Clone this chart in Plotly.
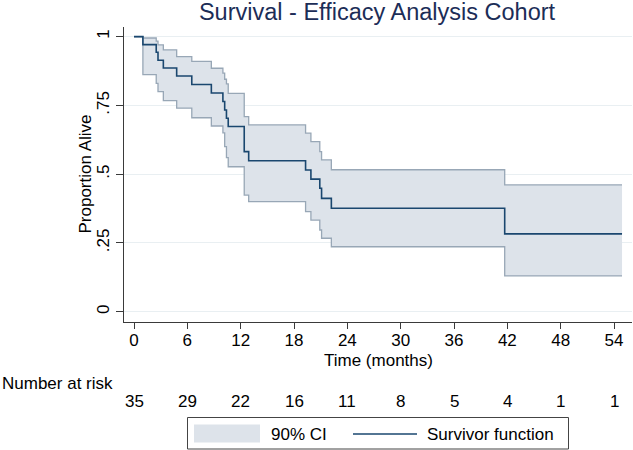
import plotly.graph_objects as go

# ---------------- data ----------------
times = [0, 1.0, 2.5, 2.7, 3.3, 4.8, 6.5, 8.7, 10.0, 10.2, 10.4, 10.6, 12.4, 12.9,
         19.3, 19.9, 20.9, 21.1, 22.2, 41.7, 54.9]
survival = [1.0, 0.971, 0.943, 0.914, 0.886, 0.857, 0.826, 0.795, 0.764, 0.733, 0.703,
            0.673, 0.582, 0.549, 0.515, 0.482, 0.449, 0.412, 0.376, 0.283, 0.283]
ci_upper = [1.0, 0.995, 0.984, 0.970, 0.952, 0.927, 0.910, 0.885, 0.867, 0.845, 0.828,
            0.794, 0.709, 0.679, 0.649, 0.618, 0.582, 0.552, 0.516, 0.461, 0.461]
ci_lower = [1.0, 0.862, 0.830, 0.800, 0.767, 0.740, 0.705, 0.675, 0.650, 0.600, 0.560,
            0.527, 0.424, 0.400, 0.364, 0.333, 0.297, 0.267, 0.236, 0.130, 0.130]

risk_times = [0, 6, 12, 18, 24, 30, 36, 42, 48, 54]
number_at_risk = [35, 29, 22, 16, 11, 8, 5, 4, 1, 1]

y_tickvals = [0, 0.25, 0.5, 0.75, 1]
y_ticktext = ["0", ".25", ".5", ".75", "1"]

title_text = "Survival - Efficacy Analysis Cohort"
x_title = "Time (months)"
y_title = "Proportion Alive"
risk_label = "Number at risk"
legend_ci = "90% CI"
legend_sf = "Survivor function"

# ---------------- styling ----------------
W, H = 633, 450
L, R, T, B = 124, 1, 27, 128
PW, PH = W - L - R, H - T - B
FONT = "Liberation Sans, Arial, Helvetica, sans-serif"
FS = 17
NAVY = "#1a476f"
BAND_FILL = "#dde3ea"
BAND_EDGE = "#98a7b6"
GRID = "#e9eff2"
AXIS = "#3a3a3a"


def px_x(p):
    return (p - L) / PW


def px_y(p):
    return (H - B - p) / PH


fig = go.Figure()
fig.add_trace(go.Scatter(x=times, y=ci_lower, mode="lines", line=dict(shape="hv", color=BAND_EDGE, width=1.3),
                         showlegend=False, hoverinfo="skip"))
fig.add_trace(go.Scatter(x=times, y=ci_upper, mode="lines", line=dict(shape="hv", color=BAND_EDGE, width=1.3),
                         fill="tonexty", fillcolor=BAND_FILL, showlegend=False, hoverinfo="skip"))
fig.add_trace(go.Scatter(x=times, y=survival, mode="lines", line=dict(shape="hv", color=NAVY, width=1.6),
                         showlegend=False))

txt = dict(family=FONT, size=FS, color="black")
annotations = []
# risk table
annotations.append(dict(text=risk_label, x=px_x(0), y=px_y(383), xref="paper", yref="paper",
                        xanchor="left", yanchor="middle", showarrow=False, font=txt))
for t, n in zip(risk_times, number_at_risk):
    annotations.append(dict(text=str(n), x=t, y=px_y(401), xref="x", yref="paper",
                            xanchor="center", yanchor="middle", showarrow=False, font=txt))
# axis titles
annotations.append(dict(text=x_title, x=0.5, y=px_y(360), xref="paper", yref="paper",
                        xanchor="center", yanchor="middle", showarrow=False, font=txt))
annotations.append(dict(text=y_title, x=px_x(85), y=0.5, xref="paper", yref="paper",
                        xanchor="center", yanchor="middle", showarrow=False, textangle=-90, font=txt))
# legend text
annotations.append(dict(text=legend_ci, x=px_x(269), y=px_y(434), xref="paper", yref="paper",
                        xanchor="left", yanchor="middle", showarrow=False, font=txt))
annotations.append(dict(text=legend_sf, x=px_x(425), y=px_y(434), xref="paper", yref="paper",
                        xanchor="left", yanchor="middle", showarrow=False, font=txt))

shapes = [
    # legend box
    dict(type="rect", xref="paper", yref="paper", x0=px_x(187.5), x1=px_x(568.5),
         y0=px_y(417.5), y1=px_y(449), line=dict(color="#444", width=1), fillcolor="white"),
    # CI swatch
    dict(type="rect", xref="paper", yref="paper", x0=px_x(194), x1=px_x(260),
         y0=px_y(424.5), y1=px_y(442.5), line=dict(width=0), fillcolor=BAND_FILL),
    # survivor line sample
    dict(type="line", xref="paper", yref="paper", x0=px_x(353), x1=px_x(417),
         y0=px_y(434), y1=px_y(434), line=dict(color=NAVY, width=1.5)),
]

fig.update_layout(
    width=W, height=H,
    margin=dict(l=L, r=R, t=T, b=B, pad=0),
    paper_bgcolor="white", plot_bgcolor="white",
    font=dict(family=FONT, size=FS, color="black"),
    title=dict(text=title_text, x=377 / W, xanchor="center",
               y=1 - 12 / H, yanchor="middle", yref="container",
               font=dict(family=FONT, size=23.5, color="#1c2d57")),
    xaxis=dict(range=[-1.125, 56.02], tickvals=risk_times, showgrid=False, zeroline=False,
               showline=True, linecolor=AXIS, linewidth=1, ticks="outside", ticklen=6,
               tickcolor=AXIS, tickfont=txt, ticklabelstandoff=-3, fixedrange=True),
    yaxis=dict(range=[-0.0375, 1.035], tickvals=y_tickvals, ticktext=y_ticktext, tickangle=-90,
               showgrid=True, gridcolor=GRID, gridwidth=1, zeroline=False,
               showline=True, linecolor=AXIS, linewidth=1, ticks="outside", ticklen=7,
               tickcolor=AXIS, tickfont=txt, fixedrange=True),
    annotations=annotations,
    shapes=shapes,
    showlegend=False,
)

# remove the browser's default 8px body margin so the figure sits at the page origin
fig.write_html("out.html", config={"displayModeBar": False},
               post_script="document.body.style.margin='0';document.body.style.padding='0';")
